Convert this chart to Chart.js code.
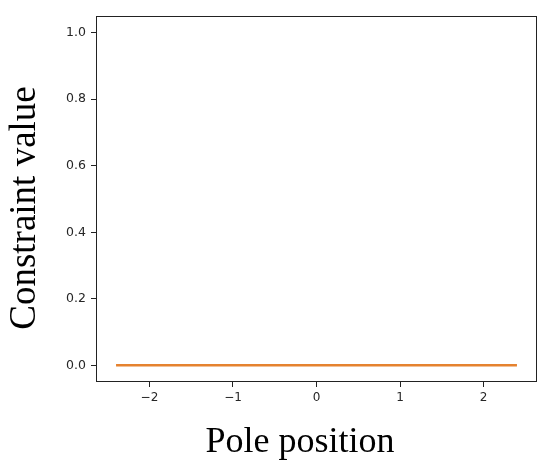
<!DOCTYPE html>
<html>
<head>
<meta charset="utf-8">
<script src="https://cdn.jsdelivr.net/npm/chart.js@4"></script>
<style>
  html, body { margin: 0; padding: 0; background: #fff; }
  #wrap { width: 555px; height: 470px; position: relative; }
</style>
</head>
<body>
<div id="wrap"><canvas id="constraintChart"></canvas></div>
<script>
// data
const polePositions = [-2.4, 2.4];
const constraintValues = [0, 0];
const xTickValues = [-2, -1, 0, 1, 2];
const yTickValues = [0, 0.2, 0.4, 0.6, 0.8, 1.0];
const xTitle = 'Pole position';
const yTitle = 'Constraint value';

// frame on all four sides + serif axis titles (matplotlib look)
const frameAndTitles = {
    id: 'frameAndTitles',
    afterDraw(chart) {
        const { ctx, chartArea: a } = chart;
        ctx.save();
        ctx.strokeStyle = '#222';
        ctx.lineWidth = 1;
        ctx.strokeRect(a.left + 0.5, a.top + 0.5, a.right - a.left - 1, a.bottom - a.top - 1);

        ctx.fillStyle = '#000';
        ctx.textAlign = 'center';
        ctx.textBaseline = 'alphabetic';
        ctx.font = '36px "Liberation Serif", "Times New Roman", serif';
        ctx.fillText(xTitle, 300, 452);

        ctx.translate(35, 208);
        ctx.rotate(-Math.PI / 2);
        ctx.font = '37px "Liberation Serif", "Times New Roman", serif';
        ctx.fillText(yTitle, 0, 0);
        ctx.restore();
    }
};

const ctx = document.getElementById('constraintChart').getContext('2d');
new Chart(ctx, {
    type: 'line',
    data: {
        datasets: [{
            label: 'constraint',
            data: polePositions.map((x, i) => ({ x: x, y: constraintValues[i] })),
            borderColor: '#e5822f',
            borderWidth: 2.5,
            pointRadius: 0,
            fill: false,
            tension: 0
        }]
    },
    options: {
        responsive: true,
        maintainAspectRatio: false,
        animation: false,
        layout: { padding: { top: 16, right: 18, left: 0, bottom: 0 } },
        plugins: {
            legend: { display: false },
            tooltip: { enabled: false }
        },
        scales: {
            x: {
                type: 'linear',
                min: -2.64,
                max: 2.64,
                afterBuildTicks: s => { s.ticks = xTickValues.map(v => ({ value: v })); },
                afterFit: s => { s.height = 88; },
                grid: { drawOnChartArea: false, tickLength: 5, color: '#222' },
                border: { display: false },
                ticks: {
                    padding: 4,
                    color: '#262626',
                    font: { family: 'DejaVu Sans', size: 12 },
                    maxRotation: 0,
                    callback: v => String(v).replace('-', '\u2212')
                }
            },
            y: {
                type: 'linear',
                min: -0.05,
                max: 1.05,
                afterBuildTicks: s => { s.ticks = yTickValues.map(v => ({ value: v })); },
                afterFit: s => { s.width = 96; },
                grid: { drawOnChartArea: false, tickLength: 5, color: '#222' },
                border: { display: false },
                ticks: {
                    padding: 5,
                    color: '#262626',
                    font: { family: 'DejaVu Sans', size: 12.5 },
                    callback: v => Number(v).toFixed(1)
                }
            }
        }
    },
    plugins: [frameAndTitles]
});
</script>
</body>
</html>
